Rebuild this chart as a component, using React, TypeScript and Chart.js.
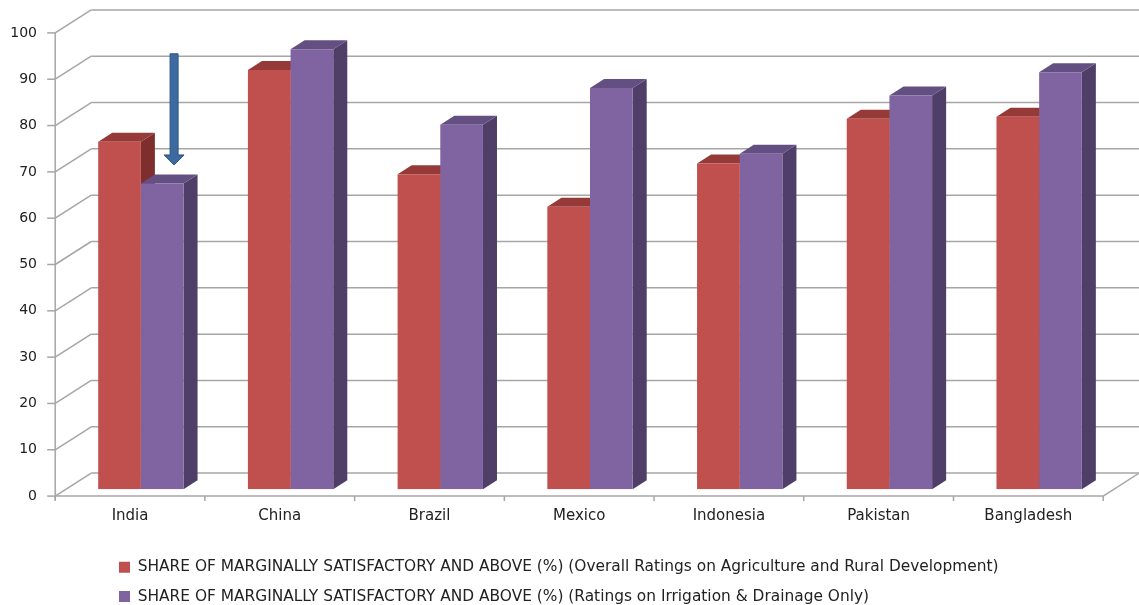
import React, { useEffect, useRef } from "react";
import { Chart, registerables } from "chart.js";

Chart.register(...registerables);

// ---------- data ----------
const categories = ["India", "China", "Brazil", "Mexico", "Indonesia", "Pakistan", "Bangladesh"];
const overallRatings = [75, 90.5, 68, 61, 70.3, 80, 80.4];
const irrigationRatings = [66, 95, 78.7, 86.6, 72.4, 85, 90];
const yTickValues = [0, 10, 20, 30, 40, 50, 60, 70, 80, 90, 100];
const seriesLabels = [
  "SHARE OF MARGINALLY SATISFACTORY AND ABOVE (%) (Overall Ratings on Agriculture and Rural Development)",
  "SHARE OF MARGINALLY SATISFACTORY AND ABOVE (%) (Ratings on Irrigation & Drainage Only)",
];
// annotation arrow (category index, from value, to value)
const arrowCategory = 0;
const arrowFrom = 94;
const arrowTo = 70;

// ---------- styles ----------
const FONT = "'DejaVu Sans', 'Open Sans', sans-serif";
const TEXT = "#222222";
const GRID = "#a6a6a6";
const FRONT = ["#C0504D", "#8064A2"];
const TOP = ["#963A38", "#644F82"];
const SIDE = ["#7E2F2D", "#4F3F68"];
const DX = 36; // full depth x
const DY = -23; // full depth y
const PLANE = 0.3; // bar front plane position (fraction of depth)
const BAR_D = 0.39; // bar depth (fraction of depth)

const threeD = {
  id: "threeD",
  afterLayout(chart: any) {
    const lg = chart.legend;
    if (lg) {
      lg.left = 105;
      lg.top = 545.5;
    }
  },
  beforeDatasetsDraw(chart: any) {
    const { ctx, chartArea: ca, scales } = chart;
    const y = scales.y;
    const fx = -DX * PLANE;
    const fy = -DY * PLANE;
    const bx = DX * (1 - PLANE);
    const by = DY * (1 - PLANE);
    const fl = ca.left + fx;
    const fr = ca.right + fx;
    const bl = ca.left + bx;
    const br = ca.right + bx;
    const line = (x1: number, y1: number, x2: number, y2: number) => {
      ctx.beginPath();
      ctx.moveTo(x1, y1);
      ctx.lineTo(x2, y2);
      ctx.stroke();
    };
    ctx.save();
    ctx.strokeStyle = GRID;
    ctx.lineWidth = 1.5;
    for (const v of yTickValues) {
      const py = y.getPixelForValue(v);
      line(bl, py + by, br, py + by);
      line(fl, py + fy, bl, py + by);
      line(fl - 8, py + fy, fl, py + fy);
    }
    const y0 = y.getPixelForValue(0);
    const y100 = y.getPixelForValue(100);
    line(fl, y0 + fy + 4, fl, y100 + fy);
    line(fl, y0 + fy, fr, y0 + fy);
    line(fr, y0 + fy, br, y0 + by);
    const n = categories.length;
    for (let k = 0; k <= n; k++) {
      const xx = fl + (k * (fr - fl)) / n;
      line(xx, y0 + fy, xx, y0 + fy + 5);
    }
    ctx.restore();

    // 3D faces of bars (front faces drawn by Chart.js afterwards)
    const ddx = DX * BAR_D;
    const ddy = DY * BAR_D;
    for (let i = 0; i < n; i++) {
      chart.data.datasets.forEach((_ds: any, di: number) => {
        const meta = chart.getDatasetMeta(di);
        const bar = meta.data[i];
        if (!bar) return;
        const p = bar.getProps(["x", "y", "base", "width"], true);
        const left = p.x - p.width / 2;
        const right = p.x + p.width / 2;
        const top = Math.min(p.y, p.base);
        const base = Math.max(p.y, p.base);
        ctx.save();
        ctx.fillStyle = SIDE[di];
        ctx.beginPath();
        ctx.moveTo(right, top);
        ctx.lineTo(right + ddx, top + ddy);
        ctx.lineTo(right + ddx, base + ddy);
        ctx.lineTo(right, base);
        ctx.closePath();
        ctx.fill();
        ctx.fillStyle = TOP[di];
        ctx.beginPath();
        ctx.moveTo(left, top);
        ctx.lineTo(left + ddx, top + ddy);
        ctx.lineTo(right + ddx, top + ddy);
        ctx.lineTo(right, top);
        ctx.closePath();
        ctx.fill();
        ctx.restore();
      });
    }
  },
  afterDatasetsDraw(chart: any) {
    const { ctx, chartArea: ca, scales } = chart;
    const cw = (ca.right - ca.left) / categories.length;
    const ax = scales.x.getPixelForValue(arrowCategory) + cw * 0.222;
    const yTop = scales.y.getPixelForValue(arrowFrom);
    const yTip = scales.y.getPixelForValue(arrowTo);
    const sw = 4;
    const hw = 10;
    const hh = 10;
    ctx.save();
    ctx.fillStyle = "#3D6AA0";
    ctx.strokeStyle = "#2B5382";
    ctx.lineWidth = 1;
    ctx.beginPath();
    ctx.moveTo(ax - sw, yTop);
    ctx.lineTo(ax + sw, yTop);
    ctx.lineTo(ax + sw, yTip - hh);
    ctx.lineTo(ax + hw, yTip - hh);
    ctx.lineTo(ax, yTip);
    ctx.lineTo(ax - hw, yTip - hh);
    ctx.lineTo(ax - sw, yTip - hh);
    ctx.closePath();
    ctx.fill();
    ctx.stroke();
    ctx.restore();
  },
};

export default function App() {
  const ref = useRef<HTMLCanvasElement | null>(null);
  useEffect(() => {
    if (!ref.current) return;
    const chart = new Chart(ref.current, {
      type: "bar",
      data: {
        labels: categories,
        datasets: [
          {
            label: seriesLabels[0],
            data: overallRatings,
            backgroundColor: FRONT[0],
            borderWidth: 0,
            categoryPercentage: 0.57,
            barPercentage: 1.0,
          },
          {
            label: seriesLabels[1],
            data: irrigationRatings,
            backgroundColor: FRONT[1],
            borderWidth: 0,
            categoryPercentage: 0.57,
            barPercentage: 1.0,
          },
        ],
      },
      options: {
        responsive: false,
        animation: false,
        layout: { padding: { top: 26, right: 25, left: 0, bottom: 0 } },
        plugins: {
          legend: {
            position: "bottom",
            align: "start",
            labels: {
              boxWidth: 11,
              boxHeight: 11,
              padding: 14,
              color: TEXT,
              font: { family: FONT, size: 15.4 },
            },
          },
          tooltip: { enabled: false },
        },
        scales: {
          x: {
            grid: { display: false, drawTicks: false },
            border: { display: false },
            ticks: {
              padding: 18,
              labelOffset: -DX * PLANE,
              color: TEXT,
              font: { family: FONT, size: 15 },
            },
            afterFit: (s: any) => {
              s.height = 47;
              s.paddingLeft = 0;
              s.paddingRight = 0;
            },
          },
          y: {
            min: 0,
            max: 100,
            grid: { display: false, drawTicks: false },
            border: { display: false },
            ticks: {
              stepSize: 10,
              padding: 29,
              labelOffset: -DY * PLANE,
              color: TEXT,
              font: { family: FONT, size: 14 },
            },
            afterFit: (s: any) => {
              s.width = 66;
              s.paddingTop = 0;
              s.paddingBottom = 0;
            },
          },
        },
      },
      plugins: [threeD],
    } as any);
    return () => chart.destroy();
  }, []);
  return (
    <div style={{ position: "fixed", left: 0, top: 0, width: 1139, height: 605, background: "#fff" }}>
      <canvas ref={ref} width={1139} height={605} style={{ display: "block" }} />
    </div>
  );
}
